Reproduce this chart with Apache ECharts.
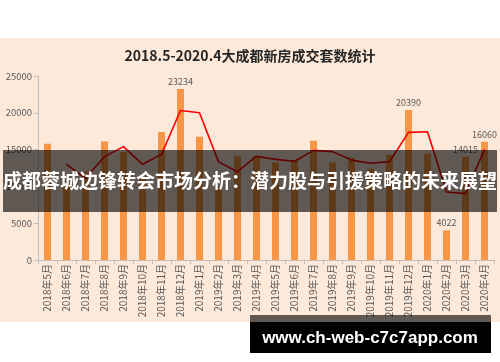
<!DOCTYPE html>
<html><head><meta charset="utf-8">
<script src="https://cdn.jsdelivr.net/npm/echarts@6/dist/echarts.min.js"></script>
<style>
html,body{margin:0;padding:0;background:#fff;}
#bg{position:absolute;left:0;top:38px;width:500px;height:284px;background:#fde9d9;}
#c{position:absolute;left:0;top:0;width:500px;height:362px;}
</style>
</head><body><div id="bg"></div><div id="c"></div>
<script>
const categories = ['2018年5月','2018年6月','2018年7月','2018年8月','2018年9月','2018年10月','2018年11月','2018年12月',
  '2019年1月','2019年2月','2019年3月','2019年4月','2019年5月','2019年6月','2019年7月','2019年8月','2019年9月','2019年10月','2019年11月','2019年12月',
  '2020年1月','2020年2月','2020年3月','2020年4月'];
const sales = [15800, 10200, 12000, 16100, 14700, 11300, 17400, 23234, 16760, 9900, 14100, 14100, 13250, 13600, 16200, 13250, 13900, 12400, 14300, 20390, 14450, 4022, 14015, 16060];
const movingAvg = [null, 13000, 11100, 14050, 15400, 13000, 14350, 20317, 19997, 13330, 12000, 14100, 13675, 13425, 14900, 14725, 13575, 13150, 13350, 17345, 17420, 9236, 9018, 15037];
const labeledMonths = ['2018年12月','2019年12月','2020年2月','2020年3月','2020年4月'];
const yTicks = {min: 0, max: 25000, interval: 5000};
const titleText = '2018.5-2020.4大成都新房成交套数统计';
const bannerText = '成都蓉城边锋转会市场分析：潜力股与引援策略的未来展望';
const watermarkText = 'www.ch-web-c7c7app.com';

const chart = echarts.init(document.getElementById('c'), null, {renderer: 'canvas'});
const font = '"Noto Sans CJK SC", "Noto Sans", sans-serif';
chart.setOption({
  animation: false,
  backgroundColor: 'transparent',
  title: {
    text: titleText, left: 'center', top: 44,
    textStyle: {fontSize: 14, fontWeight: 'bold', color: '#262626', fontFamily: font}
  },
  grid: {left: 38, right: 6, top: 76, bottom: 102},
  xAxis: {
    type: 'category', data: categories,
    axisLine: {lineStyle: {color: '#bfbfbf'}},
    axisTick: {show: true, length: 4, lineStyle: {color: '#bfbfbf'}},
    axisLabel: {rotate: 90, interval: 0, fontSize: 10, margin: 4, color: '#595959', fontFamily: font}
  },
  yAxis: {
    type: 'value', min: yTicks.min, max: yTicks.max, interval: yTicks.interval,
    axisLine: {show: true, lineStyle: {color: '#bfbfbf'}},
    axisTick: {show: true, length: 4, lineStyle: {color: '#bfbfbf'}},
    splitLine: {show: false},
    axisLabel: {fontSize: 9.5, margin: 6, color: '#595959', fontFamily: font, formatter: v => String(v)}
  },
  series: [
    {
      type: 'bar', data: sales, barWidth: 7,
      itemStyle: {color: '#f79646'},
      label: {
        show: true, position: 'top', distance: 3, fontSize: 9, color: '#595959', fontFamily: font,
        formatter: p => labeledMonths.includes(p.name) ? String(p.value) : ''
      }
    },
    {
      type: 'line', data: movingAvg, showSymbol: false, symbol: 'none',
      lineStyle: {color: '#ff0000', width: 1.6}, z: 3
    }
  ],
  graphic: [
    {type: 'rect', z: 100, shape: {x: 3, y: 150, width: 494, height: 62}, style: {fill: 'rgba(0,0,0,0.62)'}},
    {type: 'text', z: 101, x: 250, y: 181, style: {text: bannerText, fill: '#ffffff', font: 'bold 19px "Noto Sans CJK SC", sans-serif', textAlign: 'center', textVerticalAlign: 'middle'}},
    {type: 'rect', z: 100, shape: {x: 250, y: 315, width: 241, height: 7}, style: {fill: 'rgba(0,0,0,0.62)'}},
    {type: 'rect', z: 100, shape: {x: 250, y: 322, width: 241, height: 31}, style: {fill: '#000000'}},
    {type: 'text', z: 101, x: 370, y: 338, style: {text: watermarkText, fill: '#ffffff', font: 'bold 17px "Liberation Sans", Arial, sans-serif', textAlign: 'center', textVerticalAlign: 'middle'}}
  ]
});
</script>
</body></html>
